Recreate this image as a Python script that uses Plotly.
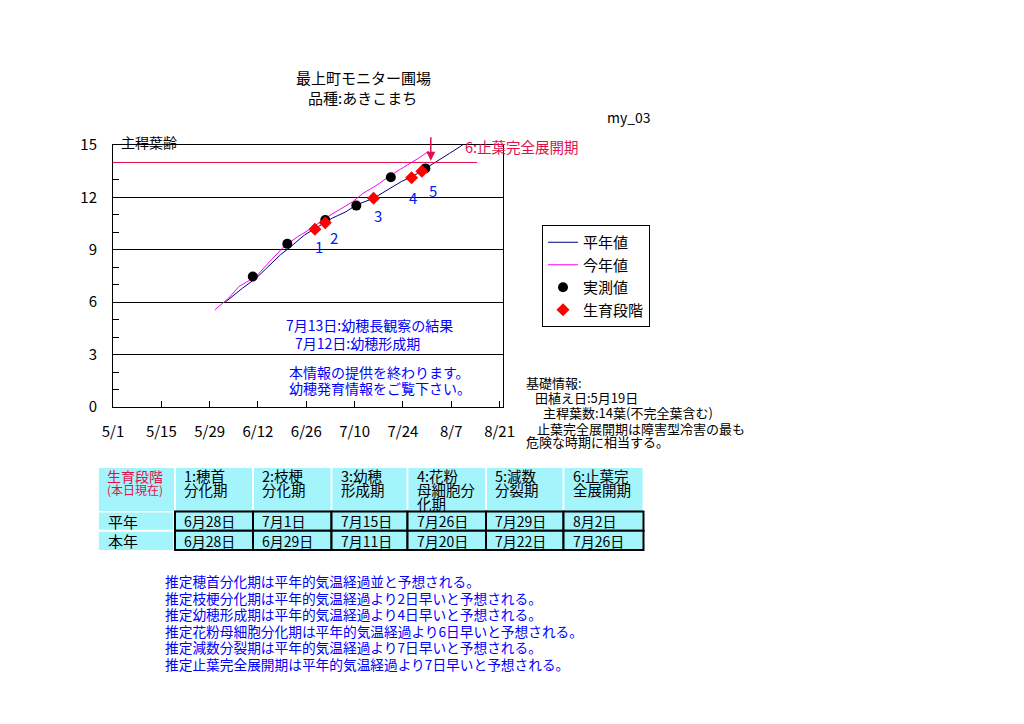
import plotly.graph_objects as go
from datetime import datetime

YEAR = 2003
FONT = "Noto Sans CJK JP"

# ---------------- data ----------------
# 平年値 (average-year main-stem leaf age)
normal_dates = ["6/2", "6/7", "6/11", "6/14", "6/18", "6/21", "6/25", "6/29", "7/3", "7/7",
                "7/10", "7/15", "7/19", "7/23", "7/27", "7/31", "8/3", "8/6", "8/9", "8/11"]
normal_leaf = [6.0, 6.8, 7.38, 7.95, 8.71, 9.18, 9.85, 10.33, 10.81, 11.18,
               11.57, 11.95, 12.42, 12.90, 13.28, 13.76, 14.14, 14.52, 14.90, 15.19]

# 今年値 (this year's estimated leaf age)
this_dates = ["5/30", "6/3", "6/6", "6/11", "6/14", "6/19", "6/23", "6/27", "7/1", "7/5",
              "7/9", "7/12", "7/16", "7/20", "7/24", "7/28", "7/31"]
this_leaf = [5.56, 6.23, 6.90, 7.47, 8.14, 9.18, 9.75, 10.23, 10.81, 11.28,
             11.76, 12.24, 12.71, 13.28, 13.76, 14.24, 14.65]

# 実測値 (measured)
obs_dates = ["6/10", "6/20", "7/1", "7/10", "7/20", "7/30"]
obs_leaf = [7.47, 9.34, 10.71, 11.53, 13.15, 13.66]

# 生育段階 table
stage_headers = ["1:穂首<br>分化期", "2:枝梗<br>分化期", "3:幼穂<br>形成期",
                 "4:花粉<br>母細胞分<br>化期", "5:減数<br>分裂期", "6:止葉完<br>全展開期"]
stage_normal = ["6/28", "7/1", "7/15", "7/26", "7/29", "8/2"]
stage_this = ["6/28", "6/29", "7/11", "7/20", "7/22", "7/26"]
stage_labels = ["1", "2", "3", "4", "5"]
stage_leaf = [10.18, 10.55, 11.95, 13.12, 13.50]   # leaf age at stages 1-5 (平年)

main_stem_leaves = 14
x_ticks = ["5/1", "5/15", "5/29", "6/12", "6/26", "7/10", "7/24", "8/7", "8/21"]

notes_chart = ["7月13日:幼穂長観察の結果", "7月12日:幼穂形成期",
               "本情報の提供を終わります。", "幼穂発育情報をご覧下さい。"]
info_lines = ["基礎情報:", "田植え日:5月19日", "主稈葉数:14葉(不完全葉含む)",
              "止葉完全展開期は障害型冷害の最も", "危険な時期に相当する。"]
forecast_lines = [
    "推定穂首分化期は平年的気温経過並と予想される。",
    "推定枝梗分化期は平年的気温経過より2日早いと予想される。",
    "推定幼穂形成期は平年的気温経過より4日早いと予想される。",
    "推定花粉母細胞分化期は平年的気温経過より6日早いと予想される。",
    "推定減数分裂期は平年的気温経過より7日早いと予想される。",
    "推定止葉完全展開期は平年的気温経過より7日早いと予想される。",
]


def md(s, hour=12):
    m, d = s.split("/")
    return datetime(YEAR, int(m), int(d), hour)


def md_jp(s):
    m, d = s.split("/")
    return f"{m}月{d}日"


# ---------------- layout geometry ----------------
W, H = 1024, 724
L, R, T, B = 113, 521, 145, 317
PW = W - L - R
PH = H - T - B


def px(x):
    return (x - L) / PW


def py(y):
    return (H - B - y) / PH


NAVY = "#000080"
MAGENTA = "#FF00FF"
CRIMSON = "#E0104A"
BLUE = "#0000FF"
CYAN = "#A4F4FC"

fig = go.Figure()
fig.add_trace(go.Scatter(x=[md(s) for s in normal_dates], y=normal_leaf, mode="lines",
                         line=dict(color=NAVY, width=1), name="平年値"))
fig.add_trace(go.Scatter(x=[md(s) for s in this_dates], y=this_leaf, mode="lines",
                         line=dict(color=MAGENTA, width=1), name="今年値"))
fig.add_trace(go.Scatter(x=[md(s) for s in obs_dates], y=obs_leaf, mode="markers",
                         marker=dict(color="black", size=10, symbol="circle"), name="実測値"))
fig.add_trace(go.Scatter(x=[md(s) for s in stage_normal[:5]], y=stage_leaf, mode="markers",
                         marker=dict(color="#FF0000", size=10, symbol="diamond"), name="生育段階"))

shapes = []
ann = []

# main stem leaf count line
shapes.append(dict(type="line", xref="x", yref="y", x0=md("5/1", 0), x1=md("8/14"),
                   y0=main_stem_leaves, y1=main_stem_leaves, line=dict(color=CRIMSON, width=1)))

# stage number labels
shifts = [(4, -17), (9, -15), (4, -17), (1, -20), (11, -19)]
for lab, dte, val, (dx, dy) in zip(stage_labels, stage_normal, stage_leaf, shifts):
    ann.append(dict(x=md(dte), y=val, xref="x", yref="y", text=lab, showarrow=False,
                    xshift=dx, yshift=dy, font=dict(family=FONT, size=15, color="#0022EE")))

# arrow for stage 6
ann.append(dict(x=md(this_dates[-1]), y=14.1, xref="x", yref="y", text="", showarrow=True,
                ax=0, ay=-25, xshift=2, arrowhead=2, arrowsize=1.2, arrowwidth=1.5,
                arrowcolor=CRIMSON))
ann.append(dict(x=px(463), y=py(146), xref="paper", yref="paper", text="6:止葉完全展開期",
                xanchor="left", yanchor="middle", showarrow=False,
                font=dict(family=FONT, size=14.5, color=CRIMSON)))

# y axis title
ann.append(dict(x=px(119), y=py(142), xref="paper", yref="paper", text="主稈葉齢",
                xanchor="left", yanchor="middle", showarrow=False,
                font=dict(family=FONT, size=14, color="black")))

# titles
ann.append(dict(x=px(363), y=py(77), xref="paper", yref="paper", text="最上町モニター圃場",
                showarrow=False, xanchor="center", yanchor="middle",
                font=dict(family=FONT, size=15, color="black")))
ann.append(dict(x=px(362.5), y=py(97.5), xref="paper", yref="paper", text="品種:あきこまち",
                showarrow=False, xanchor="center", yanchor="middle",
                font=dict(family=FONT, size=15, color="black")))
ann.append(dict(x=px(629), y=py(117), xref="paper", yref="paper", text="my_03",
                showarrow=False, xanchor="center", yanchor="middle",
                font=dict(family=FONT, size=14, color="black")))

# notes inside chart
for txt, (x0, y0) in zip(notes_chart, [(284, 325), (293, 342.5), (287, 371.5), (287, 388)]):
    ann.append(dict(x=px(x0), y=py(y0), xref="paper", yref="paper", text=txt,
                    showarrow=False, xanchor="left", yanchor="middle",
                    font=dict(family=FONT, size=14, color=BLUE)))

# basic information
for txt, (x0, y0) in zip(info_lines, [(524, 382), (533, 397), (541, 412), (535, 428), (524, 441)]):
    ann.append(dict(x=px(x0), y=py(y0), xref="paper", yref="paper", text=txt,
                    showarrow=False, xanchor="left", yanchor="middle",
                    font=dict(family=FONT, size=13, color="black")))

# forecast lines
for i, txt in enumerate(forecast_lines):
    ann.append(dict(x=px(163), y=py(581 + i * 16.6), xref="paper", yref="paper", text=txt,
                    showarrow=False, xanchor="left", yanchor="middle",
                    font=dict(family=FONT, size=13.7, color=BLUE)))

# ---------------- table ----------------
edges = [98, 175, 253, 331.5, 407.5, 486, 563.5, 643.5]
hdr_top, hdr_bot = 468, 511
r1_top, r1_bot, r2_bot = 511.5, 530.8, 550
g = 0.9
# header cells
for i in range(7):
    shapes.append(dict(type="rect", xref="paper", yref="paper",
                       x0=px(edges[i] + g), x1=px(edges[i + 1] - g),
                       y0=py(hdr_top), y1=py(hdr_bot), fillcolor=CYAN, line=dict(width=0),
                       layer="below"))
# first column of body
for (t, b) in [(r1_top + 1, r1_bot - 1), (r1_bot + 1, r2_bot)]:
    shapes.append(dict(type="rect", xref="paper", yref="paper",
                       x0=px(edges[0] + g), x1=px(edges[1] - 2),
                       y0=py(t), y1=py(b), fillcolor=CYAN, line=dict(width=0), layer="below"))
# body cells with borders
for i in range(1, 7):
    for (t, b) in [(r1_top, r1_bot), (r1_bot, r2_bot)]:
        shapes.append(dict(type="rect", xref="paper", yref="paper",
                           x0=px(edges[i]), x1=px(edges[i + 1]),
                           y0=py(t), y1=py(b), fillcolor=CYAN,
                           line=dict(color="black", width=2), layer="below"))

# header texts
ann.append(dict(x=px(135), y=py(476), xref="paper", yref="paper", text="生育段階",
                showarrow=False, xanchor="center", yanchor="middle",
                font=dict(family=FONT, size=14, color=CRIMSON)))
ann.append(dict(x=px(135), y=py(489), xref="paper", yref="paper", text="(本日現在)",
                showarrow=False, xanchor="center", yanchor="middle",
                font=dict(family=FONT, size=12, color=CRIMSON)))
for i, hdr in enumerate(stage_headers):
    for j, line in enumerate(hdr.split("<br>")):
        ann.append(dict(x=px(edges[i + 1] + 7), y=py(475.5 + j * 14), xref="paper",
                        yref="paper", text=line, showarrow=False, xanchor="left",
                        yanchor="middle", font=dict(family=FONT, size=14.5, color="black")))
# row labels and dates
for lab, dates, yc in [("平年", stage_normal, 521), ("本年", stage_this, 540.5)]:
    ann.append(dict(x=px(106), y=py(yc), xref="paper", yref="paper", text=lab,
                    showarrow=False, xanchor="left", yanchor="middle",
                    font=dict(family=FONT, size=15, color="black")))
    for i, dte in enumerate(dates):
        ann.append(dict(x=px(edges[i + 1] + 7), y=py(yc), xref="paper", yref="paper",
                        text=md_jp(dte), showarrow=False, xanchor="left", yanchor="middle",
                        font=dict(family=FONT, size=14, color="black")))

fig.update_layout(
    width=W, height=H, autosize=False,
    margin=dict(l=L, r=R, t=T, b=B, pad=0),
    paper_bgcolor="white", plot_bgcolor="white",
    font=dict(family=FONT, size=15, color="black"),
    shapes=shapes, annotations=ann,
    showlegend=True,
    legend=dict(x=px(542), y=py(225), xanchor="left", yanchor="top",
                bgcolor="white", bordercolor="black", borderwidth=1,
                font=dict(family=FONT, size=15, color="black"),
                entrywidth=78, tracegroupgap=0),
    xaxis=dict(type="date", range=[md("5/1", 0), md("8/22", 0)],
               tickvals=[md(s, 0) for s in x_ticks], ticktext=x_ticks,
               showgrid=False, zeroline=False, showline=True, linecolor="black", linewidth=1,
               mirror=True, ticks="inside", ticklen=6, tickcolor="black", tickwidth=1,
               ticklabelstandoff=11, tickfont=dict(family=FONT, size=15, color="black")),
    yaxis=dict(range=[0, 15], tick0=0, dtick=3, showgrid=True, gridcolor="black", gridwidth=1,
               zeroline=False, showline=True, linecolor="black", linewidth=1, mirror=True,
               ticks="inside", ticklen=6, tickcolor="black",
               minor=dict(dtick=1, ticks="inside", ticklen=6, tickcolor="black", showgrid=False),
               ticklabelstandoff=12, tickfont=dict(family=FONT, size=15, color="black")),
)

fig.write_html("out.html", config={"displayModeBar": False},
               post_script="document.body.style.margin='0';")
